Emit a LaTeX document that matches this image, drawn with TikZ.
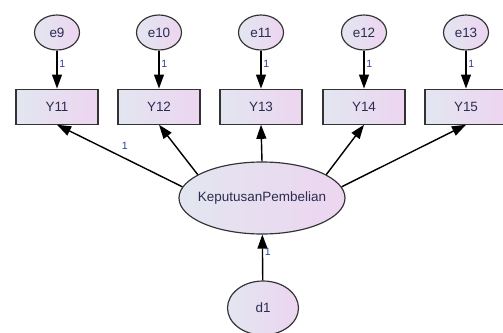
\documentclass[tikz,border=0pt]{standalone}
\usepackage{fontspec}
\setmainfont{Liberation Sans}
\usepackage{tikz}
\usetikzlibrary{positioning,arrows.meta,shapes.geometric}
\definecolor{fillL}{HTML}{E2E6F0}
\definecolor{fillR}{HTML}{EDD5F0}
\definecolor{txt}{HTML}{2C2C52}
\definecolor{lbl}{HTML}{2B3C9C}

\begin{document}
\begin{tikzpicture}[
  x=0.03cm, y=-0.03cm,
  font=\fontsize{11.5}{13}\selectfont,
  >={Triangle[length=12pt,width=8.5pt]},
  node distance=11.4mm,
  tint/.style={left color=fillL, right color=fillR, draw=black!80, line width=1pt, text=txt, inner sep=0pt},
  err/.style={tint, ellipse, minimum width=13.5mm, minimum height=10.5mm},
  obs/.style={tint, rectangle, minimum width=24.6mm, minimum height=10.5mm},
  lat/.style={tint, ellipse, inner xsep=-10mm, minimum width=49.8mm, minimum height=21.6mm},
  arrow/.style={->, line width=1.2pt, draw=black},
  one/.style={font=\fontsize{9}{10}\selectfont, text=lbl, inner sep=1.5pt}
]
\useasboundingbox (0,0) rectangle (503,332);

% ------------------------------------------------------------
% Error terms
% ------------------------------------------------------------
\node[err] (e9)  at (57,32.5)  {e9};
\node[err] (e10) at (159,32.5) {e10};
\node[err] (e11) at (261,32.5) {e11};
\node[err] (e12) at (364,32.5) {e12};
\node[err] (e13) at (466,32.5) {e13};

% ------------------------------------------------------------
% Indicators
% ------------------------------------------------------------
\node[obs, below=of e9]  (y11) {Y11};
\node[obs, below=of e10] (y12) {Y12};
\node[obs, below=of e11] (y13) {Y13};
\node[obs, below=of e12] (y14) {Y14};
\node[obs, below=of e13] (y15) {Y15};

% errors to indicators
\draw[arrow] (e9)  -- node[one, right, pos=0.35]{1} (y11);
\draw[arrow] (e10) -- node[one, right, pos=0.35]{1} (y12);
\draw[arrow] (e11) -- node[one, right, pos=0.35]{1} (y13);
\draw[arrow] (e12) -- node[one, right, pos=0.35]{1} (y14);
\draw[arrow] (e13) -- node[one, right, pos=0.35]{1} (y15);

% ------------------------------------------------------------
% Latent variable and disturbance
% ------------------------------------------------------------
\node[lat] (kp) at (262,198) {KeputusanPembelian};
\node[err, minimum width=21.3mm, minimum height=16.2mm] (d1) at (263,308) {d1};

% latent to indicators
\draw[arrow] (kp.172) -- node[one, pos=0.46, above=5pt]{1} (y11.south);
\draw[arrow] (kp.160) -- (y12.south);
\draw[arrow] (kp.north) -- (y13.south);
\draw[arrow] (kp.20) -- (y14.south);
\draw[arrow] (kp.8) -- (y15.south);

% disturbance
\draw[arrow] (d1) -- node[one, right, pos=0.62]{1} (kp);

\end{tikzpicture}
\end{document}
